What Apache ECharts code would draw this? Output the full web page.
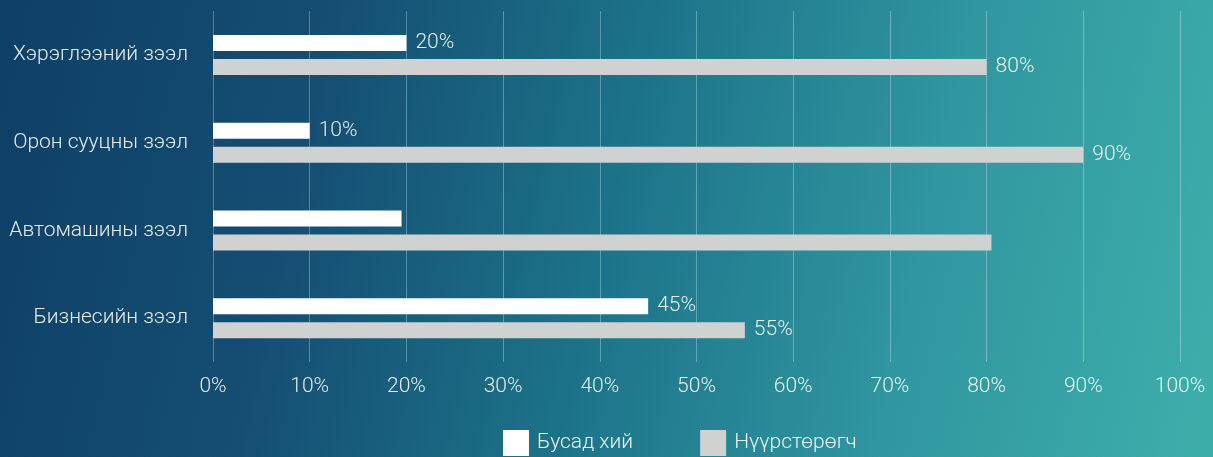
<!DOCTYPE html>
<html>
<head>
<meta charset="utf-8">
<script src="https://cdn.jsdelivr.net/npm/echarts@6/dist/echarts.min.js"></script>
<style>
  html, body { margin: 0; padding: 0; }
  #chart { width: 1213px; height: 457px; }
</style>
</head>
<body>
<div id="chart"></div>
<script>
// зээлийн төрлүүд (дээрээс доош)
var categories = ['Хэрэглээний зээл', 'Орон сууцны зээл', 'Автомашины зээл', 'Бизнесийн зээл'];
var otherGas = [20, 10, 19.5, 45];
var carbon = [80, 90, 80.5, 55];
// шошго харуулах эсэх (автомашины мөрөнд шошгогүй)
var showLabel = [true, true, false, true];
var xTicks = [0, 10, 20, 30, 40, 50, 60, 70, 80, 90, 100];

var chart = echarts.init(document.getElementById('chart'));

function toData(arr) {
  return arr.map(function (v, i) {
    return { value: v, label: { show: showLabel[i] } };
  });
}

var labelStyle = {
  show: true,
  position: 'right',
  distance: 9,
  formatter: '{c}%',
  color: 'rgba(255,255,255,0.88)',
  fontFamily: 'Roboto',
  fontWeight: 300,
  fontSize: 21
};

var option = {
  backgroundColor: {
    type: 'linear',
    x: 0, y: 0.2, x2: 1, y2: 0.8,
    colorStops: [
      { offset: 0, color: '#0f4067' },
      { offset: 0.25, color: '#154e73' },
      { offset: 0.5, color: '#1c7389' },
      { offset: 0.75, color: '#3096a0' },
      { offset: 1, color: '#3dadaa' }
    ]
  },
  animation: false,
  textStyle: { fontFamily: 'Roboto' },
  grid: { left: 213, right: 33, top: 11, bottom: 95 },
  legend: {
    bottom: -4,
    left: 498,
    itemWidth: 26,
    itemHeight: 26,
    itemGap: 67,
    icon: 'rect',
    textStyle: {
      color: 'rgba(255,255,255,0.9)',
      fontFamily: 'Roboto',
      fontWeight: 300,
      fontSize: 21,
      padding: [0, 0, 0, 3]
    },
    data: ['Бусад хий', 'Нүүрстөрөгч']
  },
  xAxis: {
    type: 'value',
    min: 0,
    max: 100,
    interval: 10,
    axisLine: { show: false },
    axisTick: { show: false },
    splitLine: { lineStyle: { color: 'rgba(255,255,255,0.3)', width: 1 } },
    axisLabel: {
      margin: 14,
      color: 'rgba(255,255,255,0.88)',
      fontFamily: 'Roboto',
      fontWeight: 300,
      fontSize: 21,
      formatter: function (v) { return xTicks.indexOf(v) >= 0 ? v + '%' : ''; }
    }
  },
  yAxis: {
    type: 'category',
    inverse: true,
    data: categories,
    axisLine: { show: false },
    axisTick: { show: false },
    axisLabel: {
      margin: 25,
      color: 'rgba(255,255,255,0.9)',
      fontFamily: 'Roboto',
      fontWeight: 300,
      fontSize: 21
    }
  },
  series: [
    {
      name: 'Бусад хий',
      type: 'bar',
      barWidth: 16,
      barGap: '50%',
      itemStyle: { color: '#ffffff' },
      label: labelStyle,
      data: toData(otherGas)
    },
    {
      name: 'Нүүрстөрөгч',
      type: 'bar',
      barWidth: 16,
      barGap: '50%',
      itemStyle: { color: '#d0d1d1' },
      label: labelStyle,
      data: toData(carbon)
    }
  ]
};

chart.setOption(option);
</script>
</body>
</html>
